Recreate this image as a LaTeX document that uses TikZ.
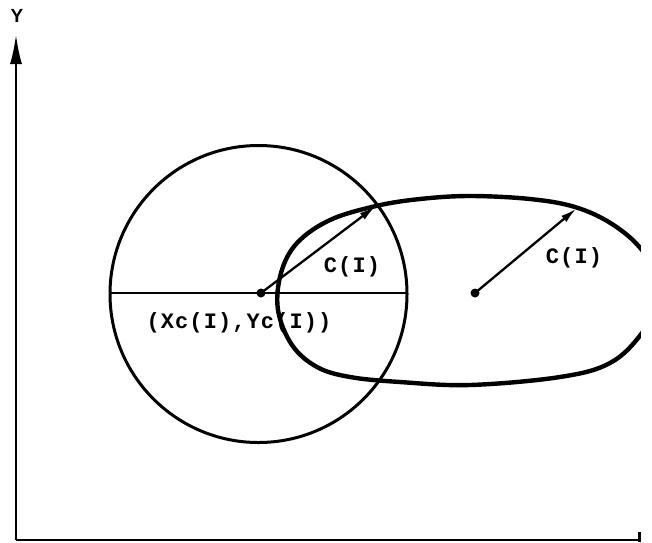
\documentclass[tikz,border=0pt]{standalone}
\usepackage{fontspec}
\setmonofont{Liberation Mono}
\newfontfamily\typefont[LetterSpace=5]{Liberation Mono Bold}
\newfontfamily\ylabfont{Liberation Sans Bold}
\usetikzlibrary{arrows.meta}
\begin{document}
\begin{tikzpicture}[x=1pt,y=-1pt,
  lbl/.style={font=\typefont\fontsize{22}{22}\selectfont, inner sep=0pt},
  dotnode/.style={circle, fill=black, inner sep=0pt, minimum size=9pt},
  radius arrow/.style={line width=2.3pt, -{Latex[length=16pt,width=8pt]}, shorten >=1pt},
  axis/.style={line width=2.6pt},
  ovalline/.style={line width=4.4pt, line join=round}]
\useasboundingbox (0,0) rectangle (652,542);
% axes
\coordinate (O) at (16,540);
\coordinate (Ytop) at (16,34);
\coordinate (Xend) at (639,540);
\node[font=\ylabfont\fontsize{19}{19}\selectfont, inner sep=0pt] (ylab) at (17,16) {Y};
\draw[axis, -{Latex[length=30pt,width=12pt]}] (O) -- (Ytop);
\draw[axis] (O) -- (Xend);
\draw[line width=3pt] (639,532) -- (639,542);
% circle
\coordinate (cc) at (258.5,294);
\draw[line width=3pt] (cc) circle[radius=148.5];
\coordinate (dl) at (110,293);
\coordinate (dr) at (407,293);
\draw[line width=2.4pt] (dl) -- (dr);
% oval
\draw[ovalline] plot[smooth cycle, tension=0.6] coordinates {
  (376,206) (420,199) (470,196) (530,199) (575,207) (612,224) (642,250)
  (666,290) (642,333) (610,363) (560,377) (470,385) (400,382) (350,377)
  (317,367) (292,345) (278,310) (281,273) (297,243) (330,220)};
\fill[white] (641,0) rectangle (652,530);
% centres and radii
\node[dotnode] (c1) at (261,293) {};
\coordinate (p1) at (376,206);
\draw[radius arrow] (c1.center) -- (p1);
\node[dotnode] (c2) at (475,293) {};
\coordinate (p2) at (577,208);
\draw[radius arrow] (c2.center) -- (p2);
% labels
\node[lbl] (l1) at (352,267) {C(I)};
\node[lbl] (l2) at (574,258) {C(I)};
\node[lbl] (l3) at (239,323) {(Xc(I),Yc(I))};
\end{tikzpicture}
\end{document}
